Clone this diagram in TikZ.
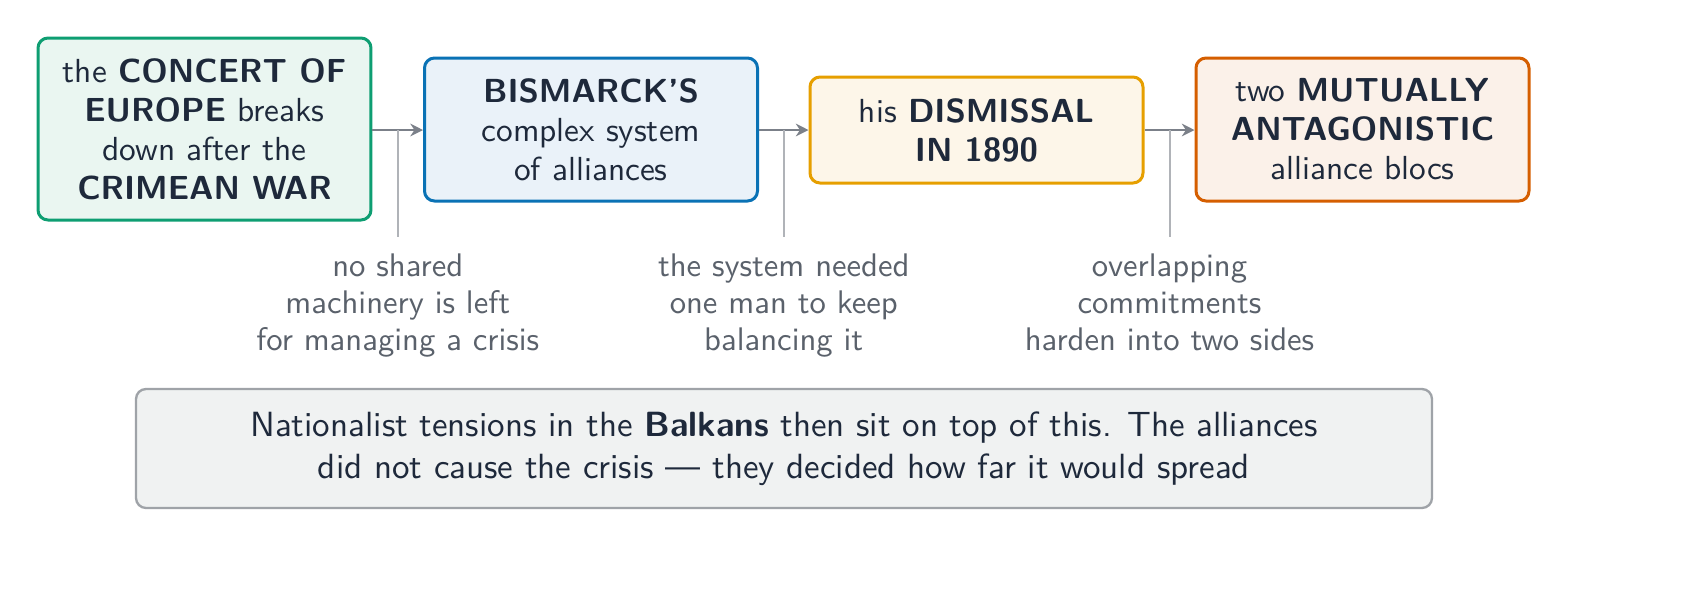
\documentclass[tikz,border=0pt]{standalone}
\usetikzlibrary{arrows.meta,calc}
\definecolor{txt}{HTML}{1E293B}
\definecolor{ann}{HTML}{5A616B}
\definecolor{gB}{HTML}{0E9E72}\definecolor{gF}{HTML}{EAF6F1}
\definecolor{bB}{HTML}{0A72B5}\definecolor{bF}{HTML}{EAF2F9}
\definecolor{yB}{HTML}{E69F00}\definecolor{yF}{HTML}{FDF6E9}
\definecolor{oB}{HTML}{D55E00}\definecolor{oF}{HTML}{FBF1E9}
\definecolor{nB}{HTML}{9FA3A8}\definecolor{nF}{HTML}{F0F2F2}
\definecolor{arrc}{HTML}{7B8089}
\definecolor{tickc}{HTML}{B0B3B8}
\begin{document}
\begin{tikzpicture}[x=0.3pt,y=-0.3pt,
  stagebox/.style={draw, line width=0.9pt, rounded corners=3pt, minimum width=99.9pt,
    align=center, text=txt, inner sep=0pt,
    font=\sffamily\fontsize{10}{11.7}\selectfont},
  annot/.style={align=center, text=ann, inner xsep=0pt, inner ysep=4.9pt, anchor=north,
    font=\sffamily\fontsize{9.8}{11}\selectfont},
  flow/.style={draw=arrc, line width=0.8pt, -{Stealth[length=3.8pt,width=3.8pt]}},
  tick/.style={draw=tickc, line width=0.6pt},
  notebox/.style={draw=nB, fill=nF, line width=0.7pt, rounded corners=3pt,
    minimum width=388.8pt, minimum height=35.7pt, align=center, text=txt,
    font=\sffamily\fontsize{10.5}{12.6}\selectfont}]
\useasboundingbox (0,0) rectangle (1704,593);
\node[stagebox, draw=gB, fill=gF, minimum height=54.6pt] (b1) at (204.5,129)
  {the \textbf{CONCERT OF}\\ \textbf{EUROPE} breaks\\ down after the\\ \textbf{CRIMEAN WAR}};
\node[stagebox, draw=bB, fill=bF, minimum height=42.9pt] (b2) at (591,129.5)
  {\textbf{BISMARCK'S}\\ complex system\\ of alliances};
\node[stagebox, draw=yB, fill=yF, minimum height=31.8pt] (b3) at (976.5,130)
  {his \textbf{DISMISSAL}\\ \textbf{IN 1890}};
\node[stagebox, draw=oB, fill=oF, minimum height=42.9pt] (b4) at (1362.5,129.5)
  {two \textbf{MUTUALLY}\\ \textbf{ANTAGONISTIC}\\ alliance blocs};
\draw[flow] (b1.east |- 0,130) coordinate (s1) -- (b2.west |- 0,130) coordinate (e1);
\draw[flow] (b2.east |- 0,130) coordinate (s2) -- (b3.west |- 0,130) coordinate (e2);
\draw[flow] (b3.east |- 0,130) coordinate (s3) -- (b4.west |- 0,130) coordinate (e3);
\coordinate (m1) at ($(s1)!0.5!(e1)$);
\coordinate (m2) at ($(s2)!0.5!(e2)$);
\coordinate (m3) at ($(s3)!0.5!(e3)$);
\node[annot] (n1) at (m1 |- 0,237) {no shared\\ machinery is left\\ for managing a crisis};
\node[annot] (n2) at (m2 |- 0,237) {the system needed\\ one man to keep\\ balancing it};
\node[annot] (n3) at (m3 |- 0,237) {overlapping\\ commitments\\ harden into two sides};
\draw[tick] (m1) -- (n1.north);
\draw[tick] (m2) -- (n2.north);
\draw[tick] (m3) -- (n3.north);
\node[notebox] (note) at (784,448.5)
  {Nationalist tensions in the \textbf{Balkans} then sit on top of this. The alliances\\
   did not cause the crisis --- they decided how far it would spread};
\end{tikzpicture}
\end{document}
